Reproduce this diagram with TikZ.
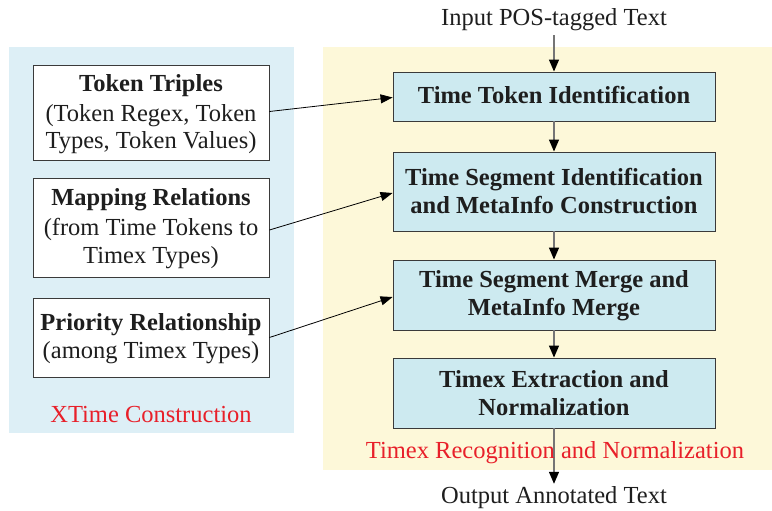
\documentclass[tikz,border=0pt]{standalone}
\usepackage{fontspec}
\setmainfont{Liberation Serif}
\usetikzlibrary{arrows.meta}
\definecolor{leftbg}{HTML}{DDEFF6}
\definecolor{rightbg}{HTML}{FDF8D9}
\definecolor{stepfill}{HTML}{CDEAF0}
\definecolor{edgegray}{HTML}{3A3A3A}
\definecolor{flowgray}{HTML}{757575}
\definecolor{labelred}{HTML}{E8202A}
\definecolor{inkblack}{HTML}{1E1E1E}
\begin{document}
\begin{tikzpicture}[x=1pt,y=-1pt,
  every node/.style={font=\fontsize{24.5}{28}\selectfont, inner sep=0pt, text=inkblack},
  srcbox/.style={draw=edgegray, fill=white, line width=0.9pt, minimum width=236pt},
  stepbox/.style={draw=edgegray, fill=stepfill, line width=0.9pt, minimum width=322pt},
  boxtext/.style={align=center, anchor=base},
  steptext/.style={align=center, anchor=base, font=\fontsize{24.5}{28}\selectfont\bfseries},
  grouplabel/.style={text=labelred, anchor=base},
  flow/.style={draw=flowgray, line width=1.3pt, -{Triangle[length=12pt,width=10pt,color=black]}},
  feed/.style={draw=black, line width=0.8pt, -{Triangle[length=12pt,width=9pt]}}]
\useasboundingbox (0,0) rectangle (772,511);

% group backgrounds
\fill[leftbg] (9,47) rectangle (294,433);
\fill[rightbg] (323,47) rectangle (772,470);

% knowledge sources (text nodes are anchored on the baseline of their last line)
\node[srcbox, minimum height=95pt] (t1) at (151,112.5) {};
\node[boxtext] (t1text) at (151,149)
  {\textbf{Token Triples}\\[2pt](Token Regex, Token\\Types, Token Values)};
\node[srcbox, minimum height=99pt] (t2) at (151,227.5) {};
\node[boxtext] (t2text) at (151,263)
  {\textbf{Mapping Relations}\\[2pt](from Time Tokens to\\Timex Types)};
\node[srcbox, minimum height=79pt] (t3) at (151,337.5) {};
\node[boxtext] (t3text) at (151,358)
  {\textbf{Priority Relationship}\\(among Timex Types)};
\node[grouplabel] (xlab) at (151,422) {XTime Construction};

% processing pipeline
\node[anchor=base] (in) at (554,26) {Input POS-tagged Text};
\node[stepbox, minimum height=49pt] (s1) at (554,96.5) {};
\node[steptext] (s1text) at (554,103) {Time Token Identification};
\node[stepbox, minimum height=79pt] (s2) at (554,191.5) {};
\node[steptext] (s2text) at (554,213) {Time Segment Identification\\and MetaInfo Construction};
\node[stepbox, minimum height=70pt] (s3) at (554,295) {};
\node[steptext] (s3text) at (554,315) {Time Segment Merge and\\MetaInfo Merge};
\node[stepbox, minimum height=70pt] (s4) at (554,393) {};
\node[steptext] (s4text) at (554,415) {Timex Extraction and\\Normalization};
\node[anchor=base] (out) at (554,503) {Output Annotated Text};

\coordinate (inend) at ([yshift=-4pt]in.south);
\draw[flow] (inend) -- (s1.north);
\draw[flow] (s1) -- (s2);
\draw[flow] (s2) -- (s3);
\draw[flow] (s3) -- (s4);
\draw[flow] (s4.south) -- ([yshift=2pt]out.north);
\node[grouplabel] (rlab) at (555,458) {Timex Recognition and Normalization};

% resources feeding the pipeline
\draw[feed] ([yshift=1pt]t1.east) -- ([yshift=-1pt]s1.west);
\draw[feed] ([yshift=-2.5pt]t2.east) -- ([yshift=-1.5pt]s2.west);
\draw[feed] (t3.east) -- ([yshift=-2pt]s3.west);
\end{tikzpicture}
\end{document}
